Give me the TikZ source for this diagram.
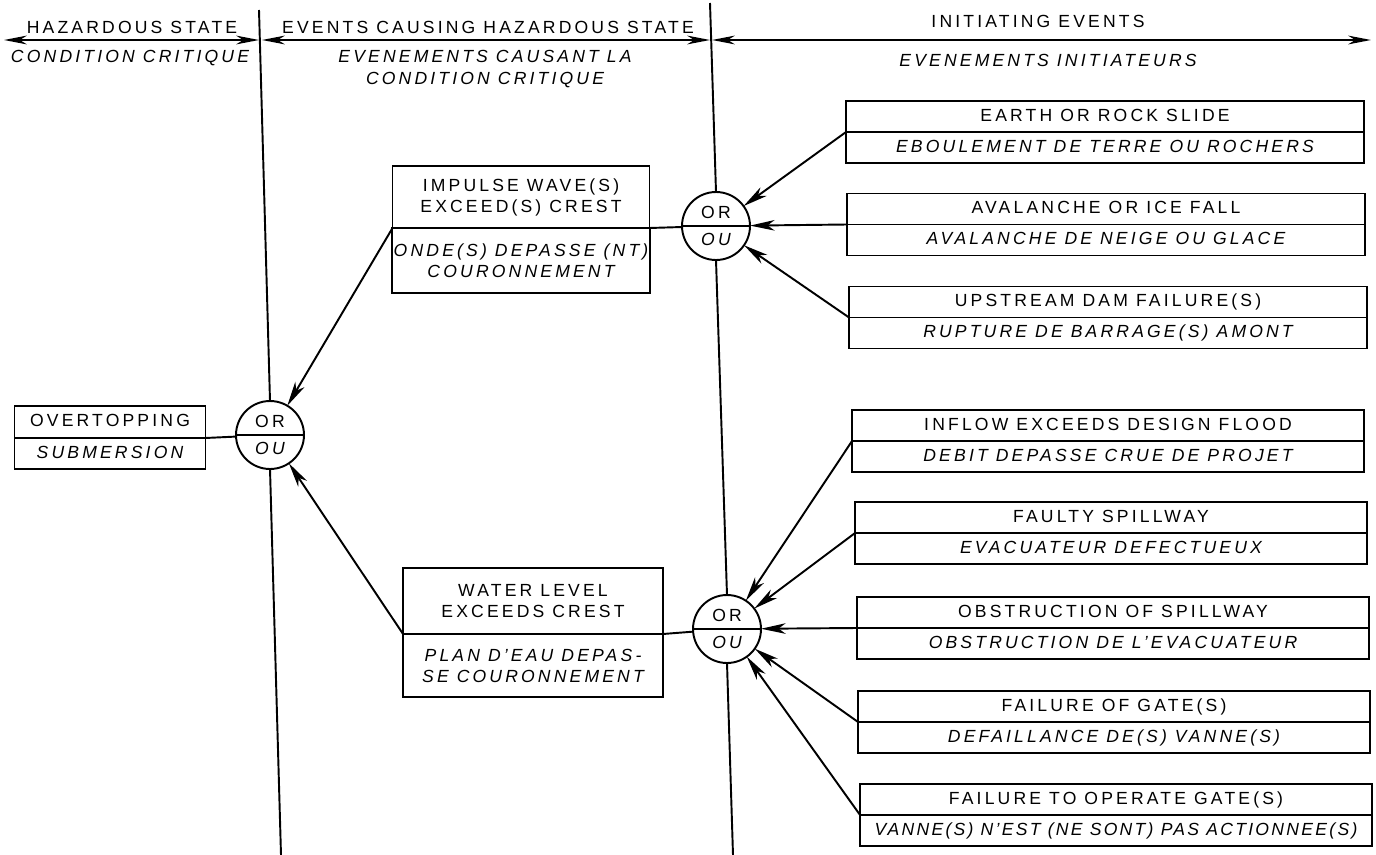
\documentclass[tikz,border=0pt]{standalone}
\usepackage{fontspec}
\setmainfont{Liberation Sans}[LetterSpace=18]
\usetikzlibrary{positioning,arrows.meta}

\begin{document}
\begin{tikzpicture}[x=0.02cm,y=-0.02cm,line width=1.1pt,
  every node/.style={font=\fontsize{10}{12}\selectfont},
  it/.style={font=\fontsize{10}{12}\selectfont\itshape},
  box/.style={draw,outer sep=0pt,inner sep=1pt,align=center},
  one/.style={text height=7.3pt,text depth=1.8pt,minimum height=0.62cm},
  gate/.style={draw,circle,fill=white,minimum size=1.36cm,inner sep=0pt,outer sep=0pt},
  cause/.style={-{Stealth[length=14pt,width=6pt,inset=4pt]}},
  band/.style={{Stealth[length=13pt,width=5pt,inset=4pt]}-{Stealth[length=13pt,width=5pt,inset=4pt]}}]
\useasboundingbox (0,0) rectangle (1376,855);

% headings
\coordinate (ltop) at (259,10);
\coordinate (lbot) at (281,855);
\coordinate (rtop) at (710,3);
\coordinate (rbot) at (733,855);
\coordinate (a0) at (4,40);
\coordinate (a1) at (259,40);
\coordinate (a2) at (262,40);
\coordinate (a3) at (710,40);
\coordinate (a4) at (712,40);
\coordinate (a5) at (1371,40);
\draw[band] (a0) -- (a1);
\draw[band] (a2) -- (a3);
\draw[band] (a4) -- (a5);
\node (hz) at (132,27) {HAZARDOUS STATE};
\node[it] (hzfr) at (130,58) {CONDITION CRITIQUE};
\node (ev) at (488,27) {EVENTS CAUSING HAZARDOUS STATE};
\node[it,align=center] (evfr) at (485,69) {EVENEMENTS CAUSANT LA\\[0.5pt]CONDITION CRITIQUE};
\node (in) at (1038,21) {INITIATING EVENTS};
\node[it] (infr) at (1048,60) {EVENEMENTS INITIATEURS};

% OR gates
\node[gate] (gl) at (270,435) {};
\node[gate] (gu) at (716,226) {};
\node[gate] (gd) at (727,629) {};
\foreach \g in {gl,gu,gd}{
  \draw (\g.west) -- (\g.east);
  \node[above=0.12cm of \g.center,inner sep=0pt] (\g-or) {OR};
  \node[it,below=0.13cm of \g.center,inner sep=0pt] (\g-ou) {OU};
}
\draw (ltop) -- (gl.north);
\draw (gl.south) -- (lbot);
\draw (rtop) -- (gu.north);
\draw (gu.south) -- (gd.north);
\draw (gd.south) -- (rbot);

% hazardous state
\node[box,one,minimum width=3.82cm,minimum height=0.64cm] (over) at (110,422) {OVERTOPPING};
\node[box,one,it,minimum width=3.82cm,below=0pt of over] (overfr) {SUBMERSION};

% events causing it
\node[box,minimum width=5.14cm,minimum height=1.24cm] (imp) at (521,197) {IMPULSE WAVE(S)\\EXCEED(S) CREST};
\node[box,it,minimum width=5.14cm,minimum height=1.3cm,below=0pt of imp] (impfr) {ONDE(S) DEPASSE (NT)\\COURONNEMENT};
\node[box,minimum width=5.2cm,minimum height=1.32cm] (wat) at (533,601) {WATER LEVEL\\EXCEEDS CREST};
\node[box,it,minimum width=5.2cm,minimum height=1.26cm,below=0pt of wat] (watfr) {PLAN D'EAU DEPAS-\\SE COURONNEMENT};

% initiating events
\node[box,one,minimum width=10.36cm] (earth) at (1105,116.5) {EARTH OR ROCK SLIDE};
\node[box,one,it,minimum width=10.36cm,below=0pt of earth] (earthfr) {EBOULEMENT DE TERRE OU ROCHERS};
\node[box,one,minimum width=10.36cm] (aval) at (1106,209) {AVALANCHE OR ICE FALL};
\node[box,one,it,minimum width=10.36cm,below=0pt of aval] (avalfr) {AVALANCHE DE NEIGE OU GLACE};
\node[box,one,minimum width=10.36cm] (up) at (1108,302) {UPSTREAM DAM FAILURE(S)};
\node[box,one,it,minimum width=10.36cm,below=0pt of up] (upfr) {RUPTURE DE BARRAGE(S) AMONT};

\node[box,one,minimum width=10.24cm] (inflow) at (1108,425.5) {INFLOW EXCEEDS DESIGN FLOOD};
\node[box,one,it,minimum width=10.24cm,below=0pt of inflow] (inflowfr) {DEBIT DEPASSE CRUE DE PROJET};
\node[box,one,minimum width=10.24cm] (faulty) at (1111,517.5) {FAULTY SPILLWAY};
\node[box,one,it,minimum width=10.24cm,below=0pt of faulty] (faultyfr) {EVACUATEUR DEFECTUEUX};
\node[box,one,minimum width=10.24cm] (obst) at (1113,612.5) {OBSTRUCTION OF SPILLWAY};
\node[box,one,it,minimum width=10.24cm,below=0pt of obst] (obstfr) {OBSTRUCTION DE L'EVACUATEUR};
\node[box,one,minimum width=10.24cm] (gates) at (1114,706.5) {FAILURE OF GATE(S)};
\node[box,one,it,minimum width=10.24cm,below=0pt of gates] (gatesfr) {DEFAILLANCE DE(S) VANNE(S)};
\node[box,one,minimum width=10.24cm] (oper) at (1116,799.5) {FAILURE TO OPERATE GATE(S)};
\node[box,one,it,minimum width=10.24cm,below=0pt of oper] (operfr) {\addfontfeature{LetterSpace=13}VANNE(S) N'EST (NE SONT) PAS ACTIONNEE(S)};

% connections
\draw (over.south east) -- (gl);
\draw[cause] (imp.south west) -- (gl);
\draw[cause] (wat.south west) -- (gl);
\draw (imp.south east) -- (gu);
\draw (wat.south east) -- (gd);
\foreach \b in {earth,aval,up}
  \draw[cause] (\b.south west) -- (gu);
\foreach \b in {inflow,faulty,obst,gates,oper}
  \draw[cause] (\b.south west) -- (gd);
\end{tikzpicture}
\end{document}
